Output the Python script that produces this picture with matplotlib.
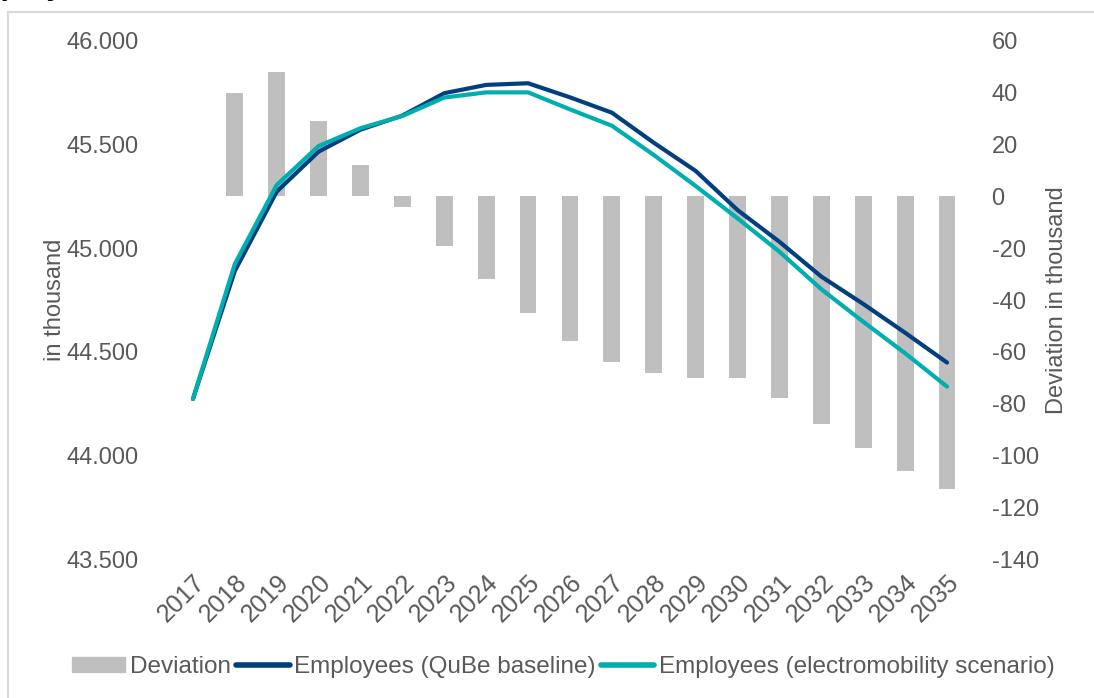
import matplotlib
matplotlib.use("Agg")
import matplotlib.pyplot as plt
from matplotlib.ticker import FuncFormatter
from matplotlib.lines import Line2D

plt.rcParams['font.family'] = ['Liberation Sans', 'DejaVu Sans']
plt.rcParams['axes.unicode_minus'] = False

# data
years = [str(y) for y in range(2017, 2036)]
deviation = [0.3, 40, 48, 29, 12, -4, -19, -32, -45, -56, -64, -68, -70, -70, -78, -88, -97, -106, -113]
baseline = [44272, 44890, 45273, 45466, 45572, 45640, 45748, 45788, 45796, 45728, 45654, 45509,
            45373, 45184, 45031, 44863, 44731, 44592, 44448]
scenario = [44272, 44924, 45305, 45493, 45579, 45638, 45727, 45752, 45752, 45670, 45591, 45450,
            45300, 45144, 44983, 44802, 44645, 44493, 44332]

txt = '#595959'
navy = '#023F7E'
teal = '#00AEB0'
grey = '#BFBFBF'

fig = plt.figure(figsize=(10.94, 6.98), dpi=100)
axb = fig.add_axes([0.1572, 0.1991, 0.7276, 0.7422])
axl = axb.twinx()

x = list(range(len(years)))

# bars (right scale)
axb.bar(x, deviation, width=0.4, color=grey, zorder=2)
axb.set_ylim(-140, 60)
axb.set_yticks(range(-140, 61, 20))
axb.set_yticks([60, 20, -20, -60, -100, -140], minor=True)
axb.grid(which='minor', axis='y', color='#D9D9D9', linewidth=1.5, zorder=0)
axb.set_axisbelow(True)
axb.yaxis.tick_right()
axb.yaxis.set_label_position('right')
axb.tick_params(axis='y', which='both', length=0, pad=17, labelsize=17, labelcolor=txt)
axb.set_ylabel('Deviation in thousand', fontsize=17, color=txt, labelpad=5)

axb.set_xlim(-0.5, len(years) - 0.5)
axb.set_xticks(x)
axb.set_xticklabels(years, rotation=45, ha='right', va='top', rotation_mode='anchor')
axb.tick_params(axis='x', length=0, pad=8, labelsize=18, labelcolor=txt)

# lines (left scale)
axl.plot(x, baseline, color=navy, linewidth=3, solid_capstyle='round', zorder=3)
axl.plot(x, scenario, color=teal, linewidth=3, solid_capstyle='round', zorder=4)
axl.set_ylim(43500, 46000)
axl.set_yticks(range(43500, 46001, 500))
axl.yaxis.tick_left()
axl.yaxis.set_label_position('left')
axl.yaxis.set_major_formatter(FuncFormatter(lambda v, p: f'{v:,.0f}'.replace(',', '.')))
axl.tick_params(axis='y', length=0, pad=24, labelsize=17, labelcolor=txt)
axl.set_ylabel('in thousand', fontsize=17, color=txt, labelpad=0)

for a in (axb, axl):
    for s in a.spines.values():
        s.set_visible(False)

# legend
handles = [
    plt.Rectangle((0, 0), 1, 1, color=grey),
    Line2D([0], [0], color=navy, linewidth=4, solid_capstyle='round'),
    Line2D([0], [0], color=teal, linewidth=4, solid_capstyle='round'),
]
labels = ['Deviation', 'Employees (QuBe baseline)', 'Employees (electromobility scenario)']
leg = fig.legend(handles, labels, loc='center', bbox_to_anchor=(0.515, 0.044), ncol=3, frameon=False,
                 fontsize=17.5, handlelength=2.2, handletextpad=0.2, columnspacing=0.2, handleheight=0.55)
for t in leg.get_texts():
    t.set_color(txt)

# frame and clipped title from the original page
fig.add_artist(Line2D([8 / 1094, 8 / 1094], [0, 1 - 12 / 698], transform=fig.transFigure, color='#D9D9D9', linewidth=1.5))
fig.add_artist(Line2D([8 / 1094, 1], [1 - 12 / 698, 1 - 12 / 698], transform=fig.transFigure, color='#D9D9D9', linewidth=1.5))
fig.text(-47 / 1094, 1 + 6 / 698, 'Employment', fontsize=22, fontweight='bold', color='black', va='baseline')

fig.savefig('out.png', dpi=100)
